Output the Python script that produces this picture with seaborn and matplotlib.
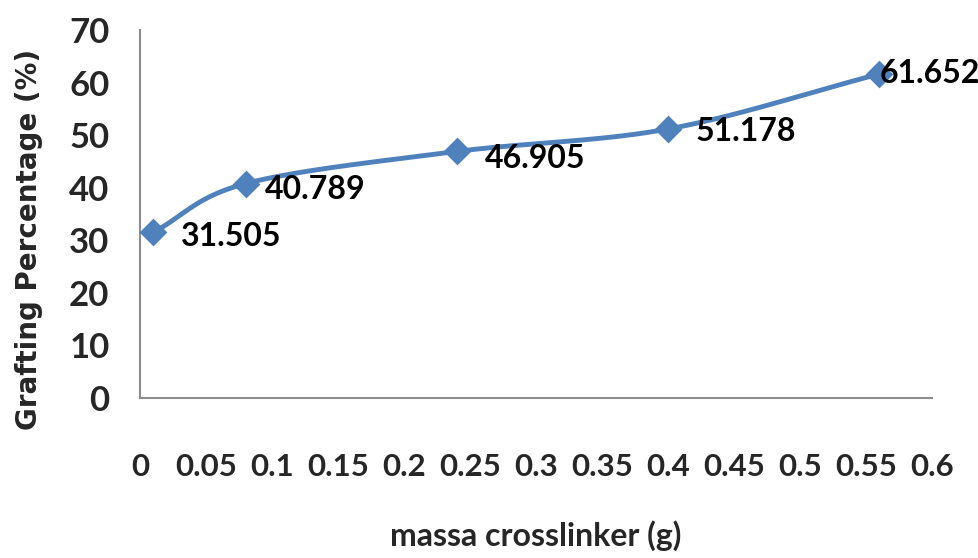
import numpy as np
import pandas as pd
import matplotlib
matplotlib.use("Agg")
import matplotlib.pyplot as plt
import seaborn as sns

# dados
massa = [0.01, 0.08, 0.24, 0.40, 0.56]
grafting = [31.505, 40.789, 46.905, 51.178, 61.652]
rotulos = ["31.505", "40.789", "46.905", "51.178", "61.652"]
x_ticks = [0, 0.05, 0.1, 0.15, 0.2, 0.25, 0.3, 0.35, 0.4, 0.45, 0.5, 0.55, 0.6]
x_tick_labels = ["0", "0.05", "0.1", "0.15", "0.2", "0.25", "0.3", "0.35", "0.4", "0.45", "0.5", "0.55", "0.6"]
y_ticks = [0, 10, 20, 30, 40, 50, 60, 70]

df = pd.DataFrame({"massa": massa, "grafting": grafting})

sns.set_theme(style="white")
plt.rcParams['font.family'] = ['Lato', 'DejaVu Sans']

azul = "#4F81BD"


# linha suavizada (estilo Excel, Catmull-Rom)
def suavizar(x, y, n=40):
    x = np.asarray(x, float)
    y = np.asarray(y, float)
    px = np.concatenate([[2 * x[0] - x[1]], x, [2 * x[-1] - x[-2]]])
    py = np.concatenate([[2 * y[0] - y[1]], y, [2 * y[-1] - y[-2]]])
    xs, ys = [], []
    for i in range(1, len(px) - 2):
        t = np.linspace(0, 1, n)
        for p, out in ((px, xs), (py, ys)):
            p0, p1, p2, p3 = p[i - 1], p[i], p[i + 1], p[i + 2]
            out.extend(0.5 * ((2 * p1) + (-p0 + p2) * t
                              + (2 * p0 - 5 * p1 + 4 * p2 - p3) * t ** 2
                              + (-p0 + 3 * p1 - 3 * p2 + p3) * t ** 3))
    return np.array(xs), np.array(ys)


fig, ax = plt.subplots(figsize=(9.79, 5.58), dpi=100)
fig.subplots_adjust(left=0.143, right=0.952, bottom=0.287, top=0.946)

sx, sy = suavizar(df["massa"], df["grafting"])
ax.plot(sx, sy, color=azul, linewidth=3.5, solid_capstyle='round', zorder=2)
sns.scatterplot(data=df, x="massa", y="grafting", marker="D", s=200,
                color=azul, edgecolor=azul, linewidth=0, ax=ax, zorder=3)

offsets = [(20, -3), (14, -4), (20, -5), (20, -2), (0, 0)]
for xv, yv, txt, off in zip(massa, grafting, rotulos, offsets):
    ax.annotate(txt, (xv, yv), xytext=off, textcoords="offset points",
                ha="left", va="center", fontsize=23, fontweight="bold",
                color="black", zorder=4)

ax.set_xlim(0, 0.6)
ax.set_ylim(0, 70)
ax.set_xticks(x_ticks)
ax.set_xticklabels(x_tick_labels, fontsize=22.5, fontweight="bold")
ax.set_yticks(y_ticks)
ax.set_yticklabels([str(v) for v in y_ticks], fontsize=25, fontweight="bold")
ax.tick_params(axis="x", length=0, pad=40)
ax.tick_params(axis="y", length=0, pad=22)

for s in ["top", "right"]:
    ax.spines[s].set_visible(False)
for s in ["left", "bottom"]:
    ax.spines[s].set_color("#8C8C8C")
    ax.spines[s].set_linewidth(1.5)

ax.set_xlabel("massa crosslinker (g)", fontsize=23, fontweight="bold", labelpad=28)
ax.set_ylabel("Grafting Percentage (%)", fontsize=20, fontweight="bold",
              family=["DejaVu Sans"])
ax.yaxis.set_label_coords(-0.122, 0.43)
ax.grid(False)

plt.savefig("out.png", dpi=100)
